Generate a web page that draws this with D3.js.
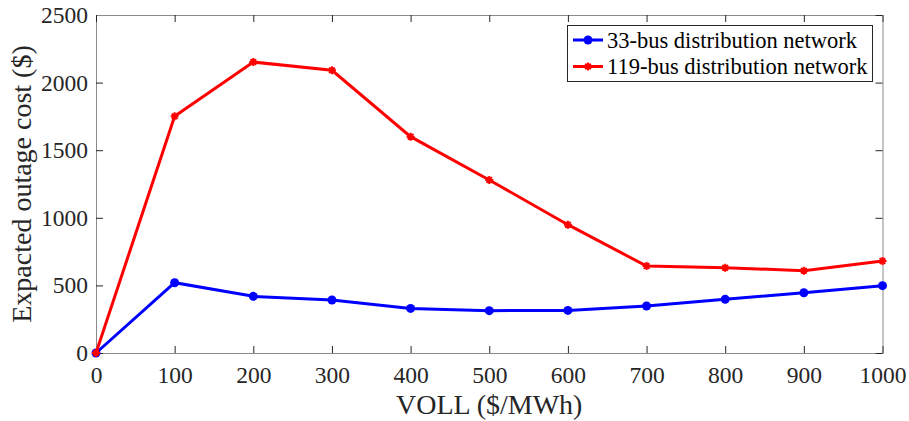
<!DOCTYPE html>
<html><head><meta charset="utf-8">
<script src="https://cdn.jsdelivr.net/npm/d3@7/dist/d3.min.js"></script>
<style>body{margin:0;background:#fff;} svg{display:block;}</style>
</head><body>
<script>
const voll = [0,100,200,300,400,500,600,700,800,900,1000];
const bus33 = [0,520,419,392,330,313,315,348,397,446,498];
const bus119 = [0,1751,2152,2091,1600,1280,949,643,631,609,680];
const xTicks = [0,100,200,300,400,500,600,700,800,900,1000];
const yTicks = [0,500,1000,1500,2000,2500];
const seriesNames = ["33-bus distribution network","119-bus distribution network"];

const W=909,H=421;
const m={l:96,r:909-882.5,t:15,b:421-353};
const svg=d3.select("body").append("svg").attr("width",W).attr("height",H);
const x=d3.scaleLinear().domain([0,1000]).range([m.l,W-m.r]);
const y=d3.scaleLinear().domain([0,2500]).range([H-m.b,m.t]);
const font="'Liberation Serif','Times New Roman',serif";
const tickLen=7;

const gx=svg.append("g").attr("transform",`translate(0,${H-m.b})`)
  .call(d3.axisBottom(x).tickValues(xTicks).tickSize(-tickLen).tickPadding(13).tickFormat(d3.format("d")));
const gy=svg.append("g").attr("transform",`translate(${m.l},0)`)
  .call(d3.axisLeft(y).tickValues(yTicks).tickSize(-tickLen).tickPadding(8).tickFormat(d3.format("d")));
const gt=svg.append("g").attr("transform",`translate(0,${m.t})`)
  .call(d3.axisTop(x).tickValues(xTicks).tickSize(-tickLen).tickFormat(""));
const gr=svg.append("g").attr("transform",`translate(${W-m.r},0)`)
  .call(d3.axisRight(y).tickValues(yTicks).tickSize(-tickLen).tickFormat(""));
[gx,gy,gt,gr].forEach(g=>{
  g.select(".domain").attr("stroke","#8a8a8a").attr("stroke-width",1);
  g.selectAll(".tick line").attr("stroke","#262626").attr("stroke-width",1);
  g.selectAll(".tick text").attr("fill","#262626").style("font-family",font).style("font-size","23.5px");
});

const line=d3.line().x((d,i)=>x(voll[i])).y(d=>y(d));
svg.append("path").datum(bus33).attr("d",line).attr("fill","none").attr("stroke","#0000ff").attr("stroke-width",3);
svg.append("g").selectAll("circle").data(bus33).join("circle")
  .attr("cx",(d,i)=>x(voll[i])).attr("cy",d=>y(d)).attr("r",4.5).attr("fill","#0000ff");
svg.append("path").datum(bus119).attr("d",line).attr("fill","none").attr("stroke","#ff0000").attr("stroke-width",3);
function asterisk(g,cx,cy,s){
  const p=`M${cx-s},${cy}L${cx+s},${cy}M${cx},${cy-s}L${cx},${cy+s}M${cx-s*0.7},${cy-s*0.7}L${cx+s*0.7},${cy+s*0.7}M${cx-s*0.7},${cy+s*0.7}L${cx+s*0.7},${cy-s*0.7}`;
  g.append("path").attr("d",p).attr("stroke","#ff0000").attr("stroke-width",2).attr("fill","none");
}
const mg=svg.append("g");
bus119.forEach((d,i)=>asterisk(mg,x(voll[i]),y(d),4));

// legend
const lg=svg.append("g");
lg.append("rect").attr("x",567.5).attr("y",25.5).attr("width",305).attr("height",56)
  .attr("fill","#fff").attr("stroke","#262626").attr("stroke-width",1);
const cols=["#0000ff","#ff0000"];
seriesNames.forEach((n,i)=>{
  const yy=40+i*26.5;
  lg.append("line").attr("x1",573).attr("x2",603).attr("y1",yy).attr("y2",yy).attr("stroke",cols[i]).attr("stroke-width",3);
  if(i===0) lg.append("circle").attr("cx",588).attr("cy",yy).attr("r",4.5).attr("fill",cols[0]);
  else asterisk(lg,588,yy,4);
  lg.append("text").attr("x",607).attr("y",yy).attr("dy","0.35em").text(n)
    .style("font-family",font).style("font-size","22.5px").attr("fill","#000");
});

svg.append("text").attr("x",(m.l+W-m.r)/2).attr("y",414).attr("text-anchor","middle")
  .text("VOLL ($/MWh)").style("font-family",font).style("font-size","28px").attr("fill","#262626");
svg.append("text").attr("transform",`translate(31,${(m.t+H-m.b)/2}) rotate(-90)`).attr("text-anchor","middle")
  .text("Expacted outage cost ($)").style("font-family",font).style("font-size","28px").attr("fill","#262626");
</script>
</body></html>
